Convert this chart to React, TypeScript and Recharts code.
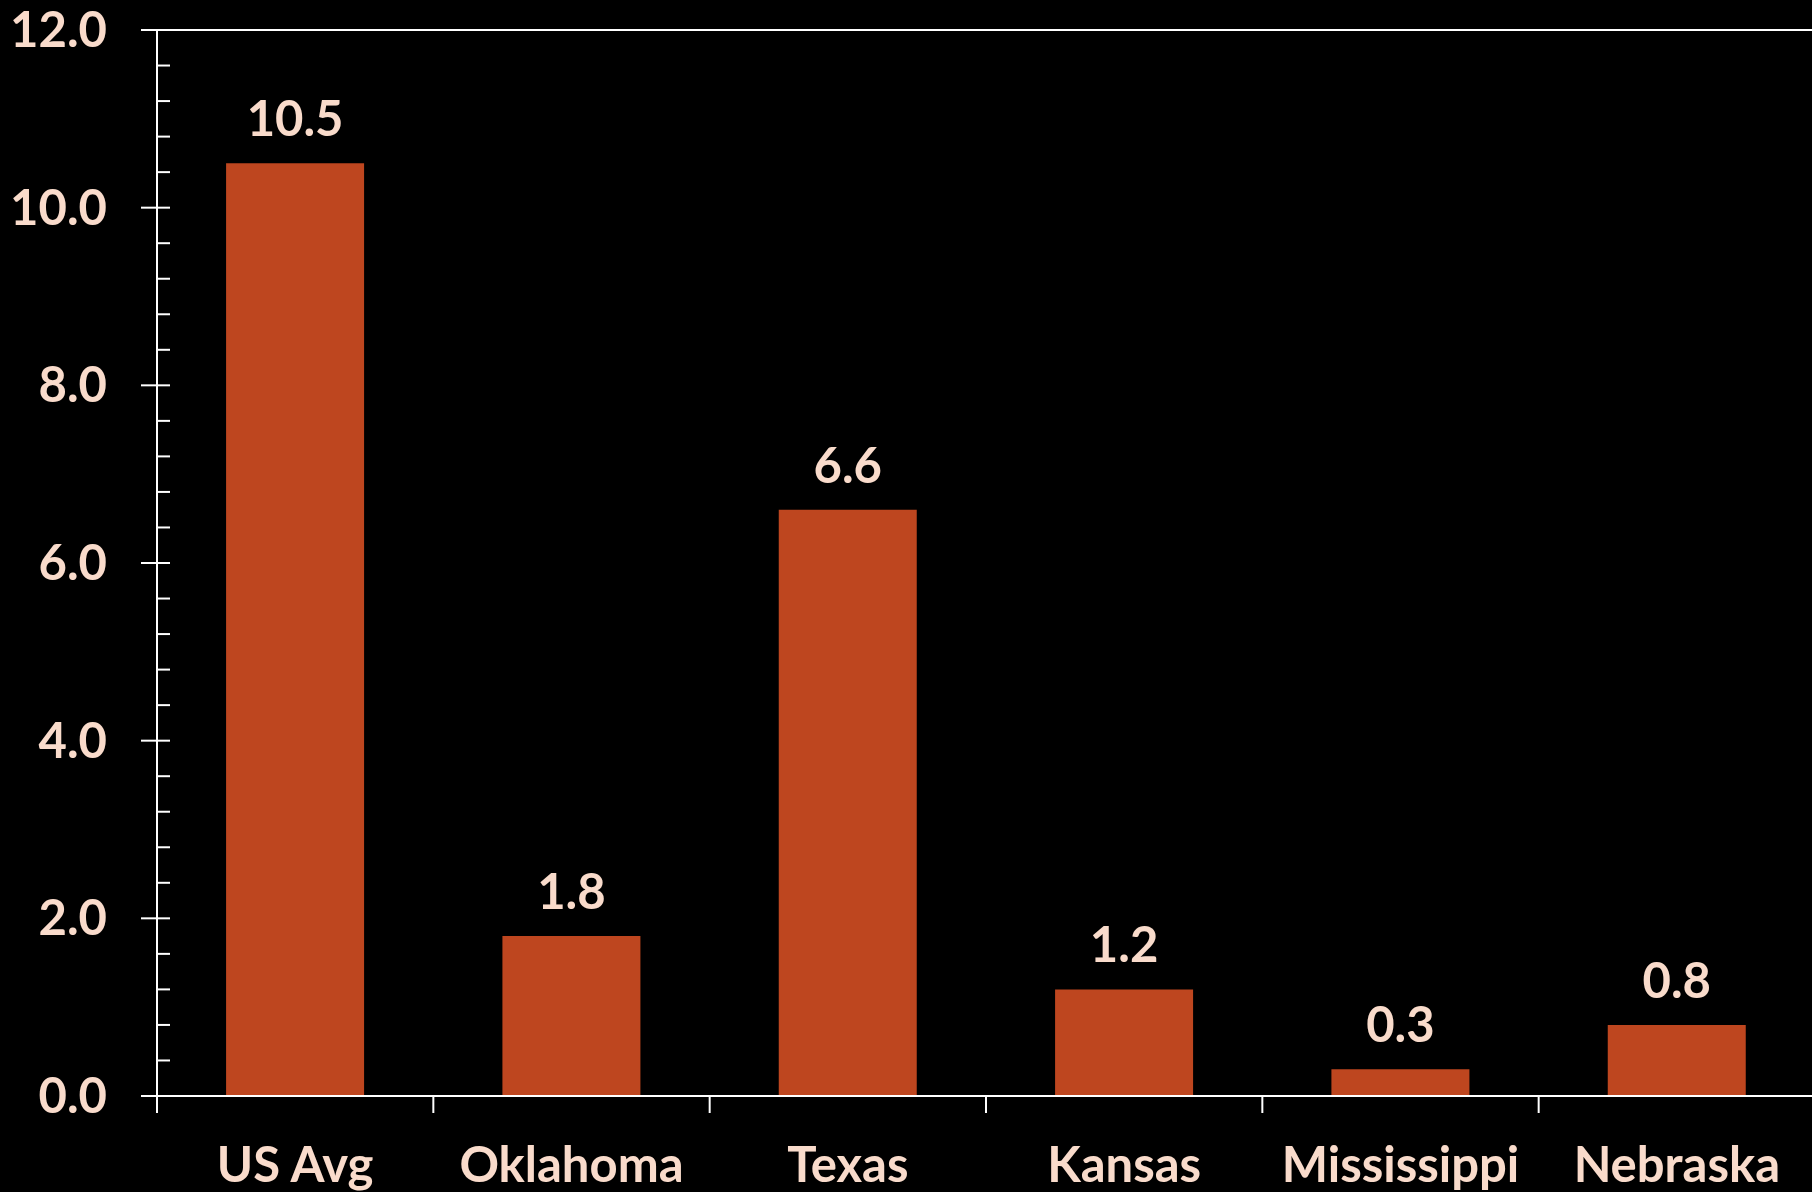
import React from 'react';
import { BarChart, Bar, XAxis, YAxis, ReferenceLine, LabelList } from 'recharts';

const categories = ['US Avg', 'Oklahoma', 'Texas', 'Kansas', 'Mississippi', 'Nebraska'];
const values = [10.5, 1.8, 6.6, 1.2, 0.3, 0.8];
const yTicks = [0, 0.4, 0.8, 1.2, 1.6, 2, 2.4, 2.8, 3.2, 3.6, 4, 4.4, 4.8, 5.2, 5.6, 6, 6.4, 6.8, 7.2, 7.6, 8, 8.4, 8.8, 9.2, 9.6, 10, 10.4, 10.8, 11.2, 11.6, 12];
const majorTicks = [0, 2, 4, 6, 8, 10, 12];

const data = categories.map((c, i) => ({ name: c, value: values[i] }));

const TEXT = '#F9DBCB';
const BAR = '#BE461F';
const FONT = "Lato, 'Open Sans', 'Noto Sans', sans-serif";
const FS = 49;

const YTick = (props: any) => {
  const { x, y, payload } = props;
  const v = payload.value;
  const major = majorTicks.some((m) => Math.abs(m - v) < 1e-6);
  if (major) {
    return (
      <g>
        <line x1={x - 16} x2={x + 13} y1={y} y2={y} stroke="#fff" strokeWidth={2} />
        <text x={x - 50} y={y + 17} textAnchor="end" fill={TEXT} fontFamily={FONT} fontWeight={700} fontSize={FS}>
          {Number(v).toFixed(1)}
        </text>
      </g>
    );
  }
  return <line x1={x} x2={x + 13} y1={y} y2={y} stroke="#fff" strokeWidth={2} />;
};

const XTick = (props: any) => {
  const { x, y, payload } = props;
  const off = payload.offset ?? 0;
  return (
    <g>
      <line x1={x - off} x2={x - off} y1={y} y2={y + 17} stroke="#fff" strokeWidth={2} />
      <text x={x} y={y + 86} textAnchor="middle" fill={TEXT} fontFamily={FONT} fontWeight={700} fontSize={FS}>
        {payload.value}
      </text>
    </g>
  );
};

export default function App() {
  return (
    <div style={{ position: 'absolute', left: 0, top: 0, width: 1812, height: 1192, background: '#000', overflow: 'hidden' }}>
      <BarChart
        width={1815}
        height={1192}
        data={data}
        margin={{ top: 30, right: 0, bottom: 0, left: 0 }}
        barCategoryGap="25%"
      >
        <ReferenceLine y={12} stroke="#fff" strokeWidth={2} />
        <XAxis
          dataKey="name"
          height={96}
          interval={0}
          tickSize={0}
          tickMargin={0}
          axisLine={{ stroke: '#fff', strokeWidth: 2 }}
          tickLine={false}
          tick={<XTick />}
        />
        <YAxis
          type="number"
          domain={[0, 12]}
          ticks={yTicks}
          interval={0}
          width={157}
          tickSize={0}
          tickMargin={0}
          axisLine={{ stroke: '#fff', strokeWidth: 2 }}
          tickLine={false}
          tick={<YTick />}
        />
        <Bar dataKey="value" fill={BAR} isAnimationActive={false}>
          <LabelList
            dataKey="value"
            position="top"
            offset={27}
            fill={TEXT}
            fontFamily={FONT}
            fontWeight={700}
            fontSize={FS}
            formatter={(v: any) => Number(v).toFixed(1)}
          />
        </Bar>
      </BarChart>
    </div>
  );
}
